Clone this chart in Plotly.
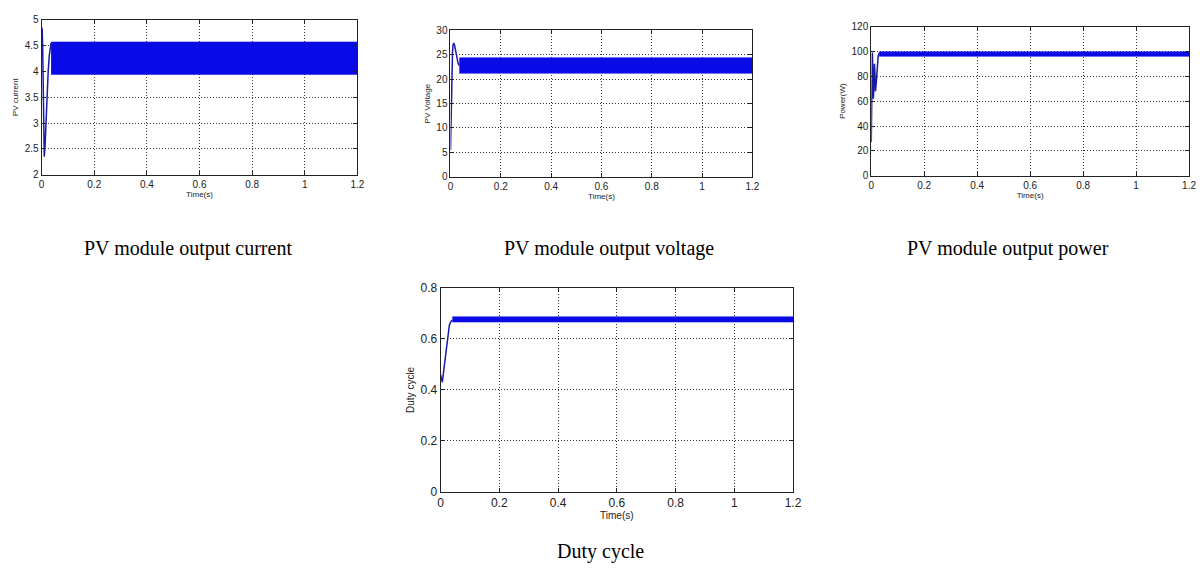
import plotly.graph_objects as go

W, H = 1204, 572

# ---------------- data ----------------
# PV current
cur_t = [0, 0.002, 0.004, 0.006, 0.008, 0.010, 0.013, 0.017, 0.021, 0.025, 0.029, 0.033, 0.036]
cur_v = [4.85, 4.82, 4.5, 3.6, 2.8, 2.35, 2.55, 3.1, 3.6, 4.0, 4.3, 4.5, 4.55]
cur_band_t = [0.036, 1.2]
cur_band_hi = [4.57, 4.57]
cur_band_lo = [3.94, 3.94]

# PV voltage
volt_t = [0, 0.002, 0.004, 0.006, 0.008, 0.010, 0.013, 0.016, 0.020, 0.025, 0.030, 0.035]
volt_v = [5.5, 12.5, 17, 22, 25.5, 27.0, 27.4, 27.0, 26.0, 24.5, 23.3, 22.8]
volt_band_t = [0.035, 1.2]
volt_band_hi = [24.4, 24.4]
volt_band_lo = [21.2, 21.2]

# PV power
pow_t = [0, 0.002, 0.004, 0.006, 0.008, 0.010, 0.012, 0.014, 0.016, 0.019, 0.022, 0.026, 0.030]
pow_v = [27, 60, 99, 85, 62, 72, 90, 82, 68, 75, 88, 96, 99]
pow_band_t = [0.030, 1.2]
pow_band_hi = [99.7, 99.7]
pow_band_lo = [96.0, 96.0]

# Duty cycle
duty_t = [0, 0.003, 0.006, 0.010, 0.015, 0.020, 0.025, 0.030, 0.035, 0.040]
duty_v = [0.46, 0.44, 0.43, 0.47, 0.52, 0.57, 0.62, 0.655, 0.668, 0.674]
duty_band_t = [0.040, 1.2]
duty_band_hi = [0.687, 0.687]
duty_band_lo = [0.666, 0.666]

x_ticks = [0, 0.2, 0.4, 0.6, 0.8, 1.0, 1.2]
x_tick_text = ["0", "0.2", "0.4", "0.6", "0.8", "1", "1.2"]

panels = [
    dict(t=cur_t, v=cur_v, bt=cur_band_t, hi=cur_band_hi, lo=cur_band_lo,
         yr=[2, 5], yt=[2, 2.5, 3, 3.5, 4, 4.5, 5], ytt=["2", "2.5", "3", "3.5", "4", "4.5", "5"],
         ytitle="PV current", box=(39, 358, 13, 172), caption="PV module output current",
         cap=(187, 248), fs=10, ts=8),
    dict(t=volt_t, v=volt_v, bt=volt_band_t, hi=volt_band_hi, lo=volt_band_lo,
         yr=[0, 30], yt=[0, 5, 10, 15, 20, 25, 30], ytt=["0", "5", "10", "15", "20", "25", "30"],
         ytitle="PV Voltage", box=(452, 757, 24, 174), caption="PV module output voltage",
         cap=(612, 248), fs=10, ts=8),
    dict(t=pow_t, v=pow_v, bt=pow_band_t, hi=pow_band_hi, lo=pow_band_lo,
         yr=[0, 120], yt=[0, 20, 40, 60, 80, 100, 120], ytt=["0", "20", "40", "60", "80", "100", "120"],
         ytitle="Power(W)", box=(877, 1198, 20, 173), caption="PV module output power",
         cap=(1015, 248), fs=10, ts=8),
    dict(t=duty_t, v=duty_v, bt=duty_band_t, hi=duty_band_hi, lo=duty_band_lo,
         yr=[0, 0.8], yt=[0, 0.2, 0.4, 0.6, 0.8], ytt=["0", "0.2", "0.4", "0.6", "0.8"],
         ytitle="Duty cycle", box=(442, 798, 288, 497), caption="Duty cycle",
         cap=(604, 558), fs=12, ts=10),
]

fig = go.Figure()
annotations = []
BLUE = "#0a0ae6"
for i, p in enumerate(panels):
    n = "" if i == 0 else str(i + 1)
    xa, ya = "x" + n, "y" + n
    x0, x1, y0, y1 = p["box"]
    fig.add_trace(go.Scatter(x=p["bt"], y=p["lo"], mode="lines", line=dict(color=BLUE, width=0.5),
                             xaxis=xa, yaxis=ya, showlegend=False, hoverinfo="skip"))
    fig.add_trace(go.Scatter(x=p["bt"], y=p["hi"], mode="lines", line=dict(color=BLUE, width=0.5),
                             fill="tonexty", fillcolor=BLUE, xaxis=xa, yaxis=ya, showlegend=False))
    fig.add_trace(go.Scatter(x=p["t"], y=p["v"], mode="lines", line=dict(color="#1a1aa8", width=1.5),
                             xaxis=xa, yaxis=ya, showlegend=False))
    common = dict(showline=True, linecolor="#222", linewidth=1, mirror="allticks",
                  ticks="inside", ticklen=4, tickcolor="#222",
                  showgrid=True, gridcolor="#333333", griddash="1px,2px", gridwidth=1,
                  zeroline=False, tickfont=dict(family="Liberation Sans", size=p["fs"], color="#222"))
    fig.layout["xaxis" + n] = dict(domain=[x0 / W, x1 / W], range=[0, 1.2], anchor=ya,
                                   tickvals=x_ticks, ticktext=x_tick_text,
                                   title=dict(text="Time(s)", standoff=2,
                                              font=dict(family="Liberation Sans", size=p["ts"], color="#222")),
                                   **common)
    fig.layout["yaxis" + n] = dict(domain=[1 - y1 / H, 1 - y0 / H], range=p["yr"], anchor=xa,
                                   tickvals=p["yt"], ticktext=p["ytt"],
                                   title=dict(text=p["ytitle"], standoff=4,
                                              font=dict(family="Liberation Sans", size=p["ts"], color="#222")),
                                   **common)
    annotations.append(dict(text=p["caption"], x=p["cap"][0] / W, y=1 - p["cap"][1] / H,
                            xref="paper", yref="paper", showarrow=False, xanchor="center", yanchor="middle",
                            font=dict(family="Liberation Serif", size=20, color="black")))

fig.update_layout(width=W, height=H, margin=dict(l=0, r=0, t=0, b=0),
                  paper_bgcolor="white", plot_bgcolor="white", annotations=annotations)
fig.write_html("out.html", config={"displayModeBar": False},
               post_script="document.body.style.margin='0';document.body.style.overflow='hidden';")
